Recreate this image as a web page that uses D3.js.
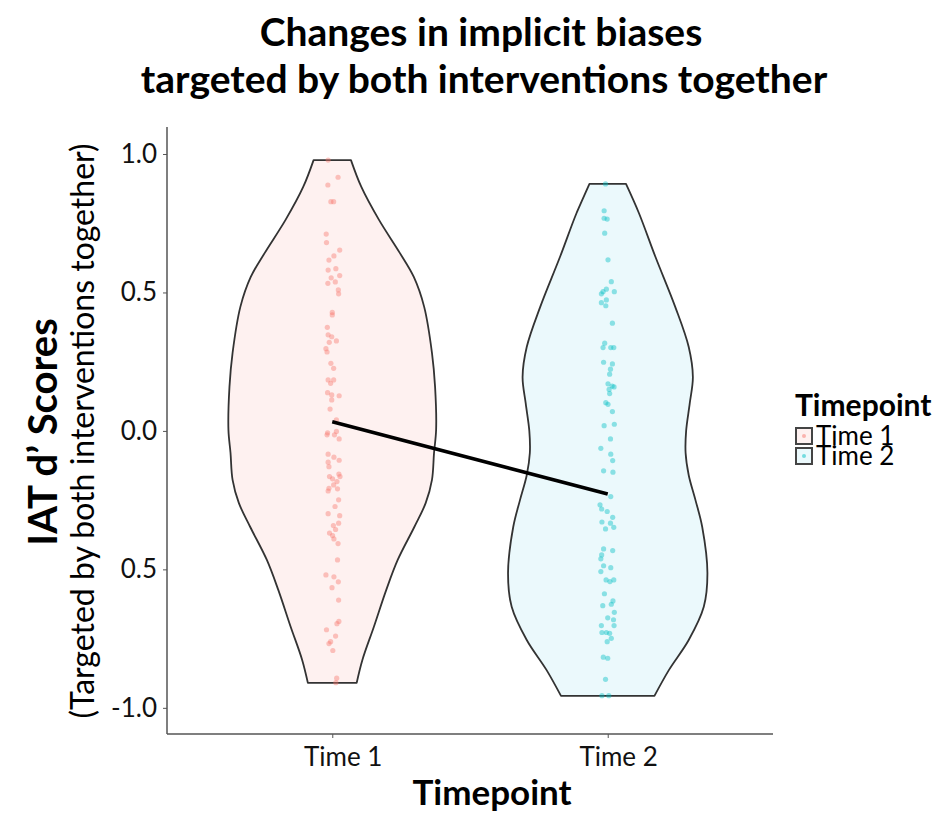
<!DOCTYPE html>
<html>
<head>
<meta charset="utf-8">
<script src="https://cdn.jsdelivr.net/npm/d3@7"></script>
<style>
  body { margin: 0; background: #fff; }
  text { font-family: Lato, "Open Sans", sans-serif; fill: #000; }
</style>
</head>
<body>
<div id="chart"></div>
<script>
// Categories and tick labels
const timepoints = ["Time 1", "Time 2"]
const yTickValues = [1, 0.5, 0, -0.5, -1]
const yTickLabels = ["1.0", "0.5", "0.0", "0.5", "-1.0"]

// Mean score at each timepoint (black line)
const meanScores = [0.033, -0.228]

// Individual IAT d' scores, with the horizontal jitter of each point
const time1Scores = [0.978, 0.916, 0.888, 0.828, 0.828, 0.711, 0.680, 0.653, 0.632, 0.617, 0.586, 0.581, 0.561, 0.553,
    0.538, 0.533, 0.509, 0.495, 0.428, 0.419, 0.374, 0.347, 0.340, 0.325, 0.320, 0.297, 0.285, 0.244, 0.226, 0.184,
    0.184, 0.172, 0.138, 0.130, 0.127, 0.112, 0.079, 0.040, -0.007, -0.014, -0.014, -0.002, -0.029, -0.084, -0.095,
    -0.106, -0.113, -0.129, -0.156, -0.165, -0.165, -0.173, -0.183, -0.195, -0.207, -0.209, -0.217, -0.249, -0.273,
    -0.299, -0.306, -0.333, -0.342, -0.356, -0.369, -0.378, -0.390, -0.407, -0.466, -0.520, -0.527, -0.545, -0.566,
    -0.611, -0.688, -0.696, -0.718, -0.741, -0.761, -0.768, -0.793, -0.893, -0.909]
const time1Jitter = [-0.015, 0.021, -0.016, -0.005, 0.005, -0.022, -0.021, 0.027, 0.006, -0.012, 0.013, -0.015, 0.027, -0.004,
    0.011, -0.016, 0.022, 0.023, 0.000, 0.000, -0.018, -0.015, -0.002, 0.015, -0.011, -0.023, -0.019, -0.005, 0.005, -0.015,
    0.005, -0.006, -0.017, -0.002, 0.025, -0.002, -0.008, 0.015, -0.017, -0.019, 0.008, 0.015, 0.025, -0.015, 0.006,
    0.025, -0.015, -0.012, 0.024, -0.010, 0.028, 0.001, 0.017, 0.005, -0.012, 0.019, -0.015, 0.023, 0.010,
    -0.015, 0.027, 0.023, 0.004, 0.012, -0.010, 0.001, 0.006, 0.021, 0.019, -0.023, 0.006, 0.022, -0.001,
    0.023, 0.024, 0.017, -0.021, 0.012, -0.006, -0.012, 0.002, 0.016, 0.013]

const time2Scores = [0.892, 0.795, 0.768, 0.765, 0.714, 0.618, 0.539, 0.512, 0.503, 0.503, 0.495, 0.473, 0.463, 0.452,
    0.389, 0.317, 0.301, 0.301, 0.301, 0.248, 0.242, 0.223, 0.205, 0.170, 0.162, 0.159, 0.150, 0.135, 0.102, 0.096,
    0.070, 0.019, 0.024, -0.029, -0.063, -0.084, -0.107, -0.144, -0.149, -0.237, -0.267, -0.282, -0.291, -0.312,
    -0.329, -0.333, -0.354, -0.348, -0.426, -0.432, -0.448, -0.462, -0.487, -0.494, -0.508, -0.538, -0.544, -0.538,
    -0.588, -0.614, -0.626, -0.631, -0.655, -0.675, -0.682, -0.703, -0.703, -0.728, -0.728, -0.731, -0.749, -0.761,
    -0.817, -0.821, -0.897, -0.956, -0.956]
const time2Jitter = [-0.008, -0.013, -0.013, -0.002, -0.011, 0.001, 0.013, -0.005, 0.024, -0.017, -0.023, -0.005, -0.023, -0.007,
    0.017, -0.011, -0.017, 0.011, 0.022, -0.015, 0.017, 0.010, 0.007, 0.001, 0.016, 0.023, 0.005, 0.007, -0.007, 0.001,
    0.017, -0.013, 0.024, 0.010, -0.025, 0.011, 0.018, -0.015, 0.019, 0.011, -0.028, -0.022, -0.002, 0.018,
    -0.021, 0.010, -0.008, 0.022, -0.015, 0.018, -0.022, -0.025, -0.015, 0.011, -0.025, -0.006, 0.008, 0.022,
    -0.012, 0.019, 0.013, -0.018, 0.024, 0.000, 0.021, 0.023, -0.023, -0.021, -0.005, 0.007, 0.013, -0.002,
    -0.016, 0.000, -0.008, -0.021, 0.004]

// Violin outlines: score and relative density (1 = widest point)
const time1ViolinScores  = [0.978, 0.881, 0.762, 0.643, 0.556, 0.448, 0.282, 0.159, 0.004, -0.079, -0.177, -0.260, -0.347, -0.466, -0.574, -0.708, -0.827, -0.910]
const time1ViolinDensity = [0.18, 0.28, 0.45, 0.65, 0.785, 0.885, 0.96, 0.99, 1.00, 0.98, 0.96, 0.90, 0.79, 0.63, 0.52, 0.40, 0.29, 0.235]
const time2ViolinScores  = [0.892, 0.787, 0.628, 0.448, 0.303, 0.195, 0.100, 0.000, -0.080, -0.160, -0.250, -0.347, -0.513, -0.635, -0.755, -0.863, -0.957]
const time2ViolinDensity = [0.176, 0.30, 0.46, 0.65, 0.78, 0.82, 0.79, 0.755, 0.75, 0.78, 0.845, 0.91, 0.96, 0.925, 0.78, 0.59, 0.45]

function drawChart(container) {
    // Chart parameters
    const WIDTH = 940
    const HEIGHT = 814
    const PLOT = {LEFT: 167, RIGHT: 773, TOP: 127, BOTTOM: 734}
    const COLOURS = {"Time 1": "#F8766D", "Time 2": "#00BFC4"}
    const FILLS = {"Time 1": "#FEF1F0", "Time 2": "#EBF9FC"}

    let svg = d3.select(container).append("svg")
        .attr("width", WIDTH)
        .attr("height", HEIGHT)

    // Scales: discrete x like ggplot (0.6 expansion each side), continuous y
    let x = d3.scalePoint()
        .domain(timepoints)
        .range([PLOT.LEFT, PLOT.RIGHT])
        .padding(0.6)
    const step = x.step()

    let y = d3.scaleLinear()
        .domain([-1.0945, 1.0975])
        .range([PLOT.BOTTOM, PLOT.TOP])

    let halfWidth = d3.scaleLinear()
        .domain([0, 1])
        .range([0, 0.377 * step])

    const groups = [
        {name: "Time 1", scores: time1Scores, jitter: time1Jitter, vScores: time1ViolinScores, vDensity: time1ViolinDensity},
        {name: "Time 2", scores: time2Scores, jitter: time2Jitter, vScores: time2ViolinScores, vDensity: time2ViolinDensity}
    ]

    // Violins
    groups.forEach(g => {
        const cx = x(g.name)
        const outline = g.vScores.map((s, i) => ({score: s, density: g.vDensity[i]}))
        let area = d3.area()
            .y(d => y(d.score))
            .x0(d => cx - halfWidth(d.density))
            .x1(d => cx + halfWidth(d.density))
            .curve(d3.curveCatmullRom.alpha(0.5))
        svg.append("path")
            .datum(outline)
            .attr("d", area)
            .style("fill", FILLS[g.name])
            .style("stroke", "#333")
            .style("stroke-width", 1.8)
            .style("stroke-linejoin", "round")
    })

    // Jittered points
    groups.forEach(g => {
        svg.append("g").selectAll("circle")
            .data(g.scores)
            .enter()
            .append("circle")
            .attr("cx", (d, i) => x(g.name) + g.jitter[i] * step)
            .attr("cy", d => y(d))
            .attr("r", 2.6)
            .style("fill", COLOURS[g.name])
            .style("fill-opacity", 0.42)
    })

    // Line joining the means
    svg.append("path")
        .datum(meanScores)
        .attr("d", d3.line().x((d, i) => x(timepoints[i])).y(d => y(d)))
        .style("fill", "none")
        .style("stroke", "#000")
        .style("stroke-width", 3.5)

    // Axes
    let yAxis = d3.axisLeft(y)
        .tickValues(yTickValues)
        .tickFormat((d, i) => yTickLabels[i])
        .tickSize(4)
        .tickSizeOuter(0)
        .tickPadding(6)
    let yG = svg.append("g")
        .attr("transform", `translate(${PLOT.LEFT},0)`)
        .call(yAxis)
    yG.select(".domain").attr("d", `M0,${PLOT.TOP}V${PLOT.BOTTOM}`)

    let xAxis = d3.axisBottom(x)
        .tickSize(4)
        .tickSizeOuter(0)
        .tickPadding(10)
    let xG = svg.append("g")
        .attr("transform", `translate(0,${PLOT.BOTTOM})`)
        .call(xAxis)
    xG.select(".domain").attr("d", `M${PLOT.LEFT},0H${PLOT.RIGHT}`)

    svg.selectAll(".domain").style("stroke", "#555").style("stroke-width", 1.5)
    svg.selectAll(".tick line").style("stroke", "#555").style("stroke-width", 1)
    svg.selectAll(".tick text")
        .style("font-family", "Lato, sans-serif")
        .style("font-size", "26px")
        .style("fill", "#111")
    xG.selectAll(".tick text").attr("dx", "0.4em")

    // Titles
    svg.append("text")
        .attr("x", 481).attr("y", 46)
        .attr("text-anchor", "middle")
        .style("font-weight", "bold").style("font-size", "39px")
        .text("Changes in implicit biases")
    svg.append("text")
        .attr("x", 484).attr("y", 93)
        .attr("text-anchor", "middle")
        .style("font-weight", "bold").style("font-size", "39px")
        .text("targeted by both interventions together")

    svg.append("text")
        .attr("x", 492).attr("y", 805)
        .attr("text-anchor", "middle")
        .style("font-weight", "bold").style("font-size", "35px")
        .text("Timepoint")

    svg.append("text")
        .attr("transform", "translate(57,432) rotate(-90)")
        .attr("text-anchor", "middle")
        .style("font-weight", "bold").style("font-size", "40px")
        .text("IAT d’ Scores")
    svg.append("text")
        .attr("transform", "translate(94,431) rotate(-90)")
        .attr("text-anchor", "middle")
        .style("font-size", "32px")
        .text("(Targeted by both interventions together)")

    // Legend
    let legend = svg.append("g").attr("transform", "translate(795,0)")
    legend.append("text")
        .attr("x", 0).attr("y", 416)
        .style("font-weight", "bold").style("font-size", "30px")
        .text("Timepoint")
    timepoints.forEach((t, i) => {
        const top = 427 + i * 20
        legend.append("rect")
            .attr("x", 1).attr("y", top + 1)
            .attr("width", 16).attr("height", 16)
            .style("fill", FILLS[t])
            .style("stroke", "#444")
            .style("stroke-width", 2)
        legend.append("circle")
            .attr("cx", 9).attr("cy", top + 9)
            .attr("r", 2)
            .style("fill", COLOURS[t])
            .style("fill-opacity", 0.5)
        legend.append("text")
            .attr("x", 21).attr("y", top + 18)
            .style("font-size", "26px")
            .text(t)
    })
}

drawChart("#chart")
</script>
</body>
</html>
